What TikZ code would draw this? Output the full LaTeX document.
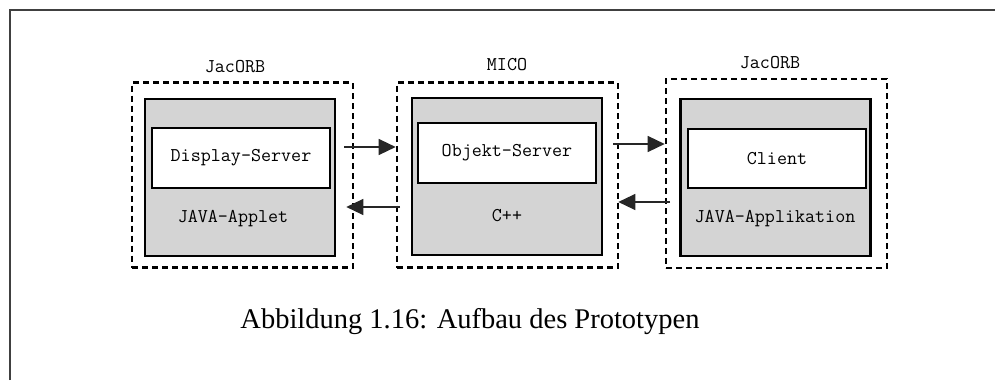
\documentclass[tikz,border=0pt]{standalone}
\usepackage{fontspec}
\setmainfont{Liberation Serif}
\usetikzlibrary{arrows.meta}
\begin{document}
\begin{tikzpicture}[x=1pt,y=-1pt,
  outerbox/.style={draw, line width=2.6pt, dash pattern=on 6pt off 4pt, minimum width=221pt, minimum height=185pt, inner sep=0pt},
  graybox/.style={draw, line width=2.6pt, fill=black!17, minimum width=190pt, minimum height=157pt, inner sep=0pt},
  whitebox/.style={draw, line width=2pt, fill=white, minimum width=178pt, minimum height=60pt, inner sep=0pt, font=\ttfamily\fontsize{19.5}{22}\selectfont},
  lbl/.style={font=\ttfamily\fontsize{19.5}{22}\selectfont, inner sep=0pt},
  arr/.style={line width=1.3pt, black!85, -{Triangle[length=17pt,width=16pt]}}
]
\useasboundingbox (0,0) rectangle (995,380);
\draw[line width=1.5pt, black!75] (10,380) -- (10,10) -- (995,10);
% box 1
\node[outerbox] (o1) at (242.5,175) {};
\node[graybox] (g1) at (240,177.5) {};
\node[whitebox] (w1) at (241,158) {Display-Server};
\node[lbl] (t1) at (233,219) {JAVA-Applet};
\node[lbl] (h1) at (235,67) {JacORB};
% box 2
\node[outerbox] (o2) at (507.5,175) {};
\node[graybox] (g2) at (507,176.5) {};
\node[whitebox] (w2) at (507,153) {Objekt-Server};
\node[lbl] (t2) at (507,216) {C++};
\node[lbl] (h2) at (507,65) {MICO};
% box 3
\node[outerbox, minimum height=189pt] (o3) at (776.5,173.5) {};
\node[graybox] (g3) at (775.5,177.5) {};
\node[whitebox, minimum height=59pt] (w3) at (777,158.5) {Client};
\node[lbl] (t3) at (775,219) {JAVA-Applikation};
\node[lbl] (h3) at (770,63) {JacORB};
% arrows
\coordinate (a1s) at (344,147);
\coordinate (a2s) at (400,207);
\coordinate (a3s) at (613,144);
\coordinate (a4s) at (670,202);
\draw[arr] (a1s) -- (o2.west |- a1s);
\draw[arr] (a2s) -- ([xshift=-8pt]o1.east |- a2s);
\draw[arr] (a3s) -- (o3.west |- a3s);
\draw[arr] (a4s) -- ([xshift=-1pt]o2.east |- a4s);
% caption
\node[font=\fontsize{28.5}{32}\selectfont, inner sep=0pt] (cap) at (470,322) {Abbildung 1.16: Aufbau des Prototypen};
\end{tikzpicture}
\end{document}
